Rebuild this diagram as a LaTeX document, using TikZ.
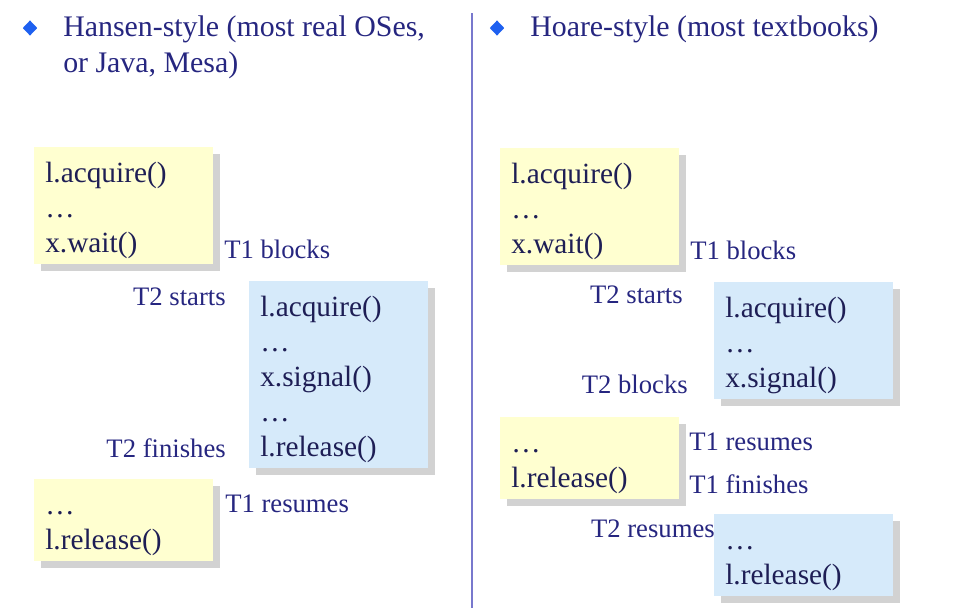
\documentclass[tikz,border=0pt]{standalone}
\usepackage{fontspec}
\setmainfont{Liberation Serif}
\usepackage{xcolor}
\usetikzlibrary{shapes.geometric,shadows}
\definecolor{tonefill}{RGB}{255,255,208}
\definecolor{ttwofill}{RGB}{214,234,250}
\definecolor{codeink}{RGB}{30,30,85}
\definecolor{noteink}{RGB}{38,38,128}
\definecolor{bulletblue}{RGB}{30,96,240}
\definecolor{divider}{RGB}{120,120,205}
\newcommand{\topstr}{\rule{0pt}{26.25pt}}
\newcommand{\botstr}{\rule[-9pt]{0pt}{9pt}}
\tikzset{%
	code/.style   = {anchor=north west, text width=117.75pt, inner xsep=8.25pt, inner ysep=0pt, align=left, font=\fontsize{22}{26.25}\selectfont, text=codeink, drop shadow={shadow xshift=5pt, shadow yshift=-5pt, fill=black!35, opacity=.5}},
	tone/.style   = {code, fill=tonefill}, % T1 code
	ttwo/.style   = {code, fill=ttwofill}, % T2 code
	note/.style   = {inner sep=0pt, font=\fontsize{20}{24}\selectfont, text=noteink}, % Event
	head/.style   = {anchor=north west, inner sep=0pt, align=left, font=\fontsize{22.4}{27}\selectfont, text=noteink},
	bullet/.style = {diamond, fill=bulletblue, inner sep=0pt, minimum width=11pt, minimum height=11.5pt},
}

\begin{document}
\begin{tikzpicture}[x=0.75pt, y=-0.75pt]
	\useasboundingbox (0,0) rectangle (962,608);
	% Hansen-style
	\node[bullet] (b1) at (30,28) {};
	\node[head] (hd1) at (63,10.8) {\strut Hansen-style (most real OSes,\\or Java, Mesa)};
	\node[tone] (h1) at (34,147) {\topstr l.acquire()\\\dots\\x.wait()\botstr};
	\node[ttwo] (h2) at (249,281) {\topstr l.acquire()\\\dots\\x.signal()\\\dots\\l.release()\botstr};
	\node[tone] (h3) at (34,479) {\topstr\dots\\l.release()\botstr};
	\node[note,anchor=base west] (e1) at (224,258) {T1 blocks};
	\node[note,anchor=base east] (e2) at (226,305) {T2 starts};
	\node[note,anchor=base east] (e3) at (226,457) {T2 finishes};
	\node[note,anchor=base west] (e4) at (225,512) {T1 resumes};
	% divider
	\coordinate (dtop) at (472,13);
	\coordinate (dbot) at (472,608);
	\draw[divider, line width=1.5pt] (dtop) -- (dbot);
	% Hoare-style
	\node[bullet] (b2) at (497,28) {};
	\node[head] (hd2) at (530,10.8) {\strut Hoare-style (most textbooks)};
	\node[tone] (k1) at (500,148) {\topstr l.acquire()\\\dots\\x.wait()\botstr};
	\node[ttwo] (k2) at (714,282) {\topstr l.acquire()\\\dots\\x.signal()\botstr};
	\node[tone] (k3) at (500,417) {\topstr\dots\\l.release()\botstr};
	\node[ttwo] (k4) at (714,514) {\topstr\dots\\l.release()\botstr};
	\node[note,anchor=base west] (f1) at (690,259) {T1 blocks};
	\node[note,anchor=base east] (f2) at (683,303) {T2 starts};
	\node[note,anchor=base east] (f3) at (688,393) {T2 blocks};
	\node[note,anchor=base west] (f4) at (689,450) {T1 resumes};
	\node[note,anchor=base west] (f5) at (689,493) {T1 finishes};
	\node[note,anchor=base east] (f6) at (715,537) {T2 resumes};
\end{tikzpicture}
\end{document}
